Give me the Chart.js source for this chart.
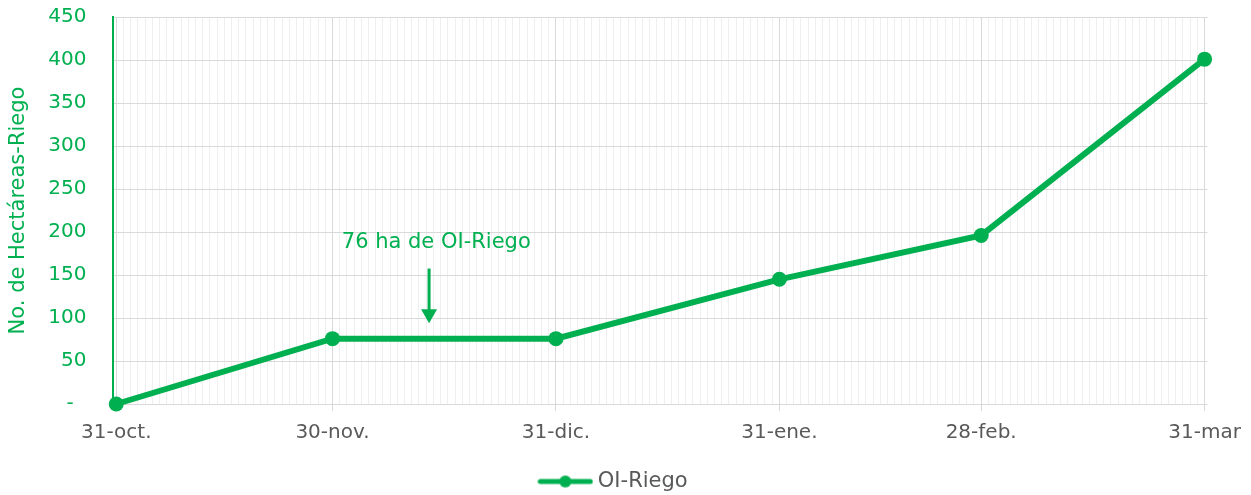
<!DOCTYPE html>
<html>
<head>
<meta charset="utf-8">
<script src="https://cdn.jsdelivr.net/npm/chart.js@4"></script>
<style>
  html, body { margin: 0; padding: 0; background: #fff; }
  #wrap { width: 1251px; height: 495px; position: relative; }
</style>
</head>
<body>
<div id="wrap"><canvas id="grafica"></canvas></div>
<script>
// dias desde el 31-oct
const fechas = ['31-oct.', '30-nov.', '31-dic.', '31-ene.', '28-feb.', '31-mar'];
const dias = [0, 30, 61, 92, 120, 151];
const hectareas = [0, 76, 76, 145, 196, 401];
const nombreSerie = 'OI-Riego';
const nota = '76 ha de OI-Riego';

const verde = '#00b050';
const gris = '#595959';
const fuente = '"DejaVu Sans", sans-serif';

const puntos = dias.map((d, i) => ({ x: d, y: hectareas[i] }));

// icono de leyenda: linea con punto
function iconoLeyenda() {
    const c = document.createElement('canvas');
    c.width = 56; c.height = 14;
    const g = c.getContext('2d');
    g.strokeStyle = verde; g.lineWidth = 5; g.lineCap = 'round';
    g.beginPath(); g.moveTo(3, 7); g.lineTo(53, 7); g.stroke();
    g.fillStyle = verde;
    g.beginPath(); g.arc(28, 7, 6, 0, Math.PI * 2); g.fill();
    return c;
}

// texto y flecha de la nota
const notaPlugin = {
    id: 'nota',
    afterDatasetsDraw(chart) {
        const ctx = chart.ctx;
        const xs = chart.scales.x, ys = chart.scales.y;
        const xt = xs.getPixelForValue(44.4);
        const x = xs.getPixelForValue(43.4);
        ctx.save();
        ctx.fillStyle = verde;
        ctx.strokeStyle = verde;
        ctx.font = '21px ' + fuente;
        ctx.textAlign = 'center';
        ctx.textBaseline = 'middle';
        ctx.fillText(nota, xt, ys.getPixelForValue(188));
        const y1 = ys.getPixelForValue(157.5);
        const y2 = ys.getPixelForValue(94);
        ctx.lineWidth = 3;
        ctx.beginPath(); ctx.moveTo(x, y1); ctx.lineTo(x, y2 - 12); ctx.stroke();
        ctx.beginPath();
        ctx.moveTo(x - 8, y2 - 14); ctx.lineTo(x + 8, y2 - 14); ctx.lineTo(x, y2); ctx.closePath();
        ctx.fill();
        ctx.restore();
    }
};

new Chart(document.getElementById('grafica'), {
    type: 'line',
    data: {
        datasets: [{
            label: nombreSerie,
            data: puntos,
            borderColor: verde,
            backgroundColor: verde,
            borderWidth: 6,
            pointRadius: 7.5,
            pointBackgroundColor: verde,
            pointBorderWidth: 0,
            tension: 0,
            clip: false
        }]
    },
    options: {
        responsive: true,
        maintainAspectRatio: false,
        animation: false,
        layout: { padding: { top: 0, right: 26, left: 6, bottom: -7 } },
        plugins: {
            tooltip: { enabled: false },
            legend: {
                position: 'bottom',
                labels: {
                    color: gris,
                    font: { family: fuente, size: 21 },
                    usePointStyle: true,
                    pointStyleWidth: 44,
                    boxHeight: 14,
                    padding: 2,
                    generateLabels() {
                        return [{ text: nombreSerie, pointStyle: iconoLeyenda(), fontColor: gris,
                                  fillStyle: verde, strokeStyle: verde, lineWidth: 0, datasetIndex: 0 }];
                    }
                }
            }
        },
        scales: {
            x: {
                type: 'linear',
                min: -0.4,
                max: 151.4,
                afterBuildTicks(axis) {
                    const t = [];
                    for (let d = 0; d <= 151; d++) t.push({ value: d });
                    axis.ticks = t;
                },
                afterFit(axis) { axis.height += 14; },
                border: { display: false },
                grid: {
                    color: c => dias.includes(c.tick.value) ? '#d9d9d9' : '#efefef',
                    tickColor: c => dias.includes(c.tick.value) ? '#d9d9d9' : 'rgba(0,0,0,0)',
                    tickLength: 7,
                    lineWidth: 1
                },
                ticks: {
                    autoSkip: false,
                    maxRotation: 0,
                    color: gris,
                    font: { family: fuente, size: 20 },
                    padding: 10,
                    callback: v => {
                        const i = dias.indexOf(v);
                        return i >= 0 ? fechas[i] : '';
                    }
                }
            },
            y: {
                min: 0,
                max: 450,
                border: { color: verde, width: 2 },
                grid: { color: '#d9d9d9', lineWidth: 1, tickLength: 22, tickColor: 'rgba(0,0,0,0)' },
                ticks: {
                    stepSize: 50,
                    color: verde,
                    padding: 5,
                    font: { family: fuente, size: 20 },
                    callback: v => v === 0 ? '-  ' : v
                },
                title: {
                    display: true,
                    text: 'No. de Hectáreas-Riego',
                    color: verde,
                    font: { family: fuente, size: 21 },
                    padding: { top: 0, bottom: 12 }
                }
            }
        }
    },
    plugins: [notaPlugin]
});
</script>
</body>
</html>
